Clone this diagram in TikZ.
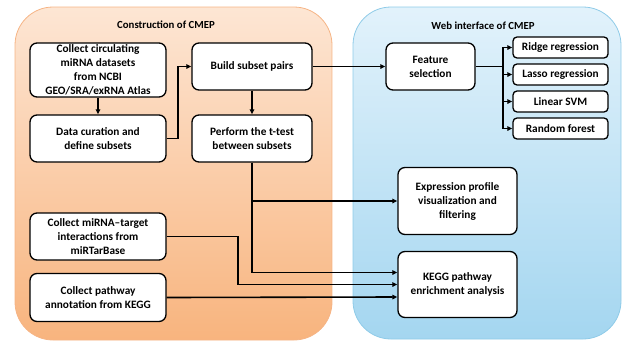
\documentclass[tikz,border=0pt]{standalone}
\usepackage{fontspec}
\setmainfont{Carlito}
\usetikzlibrary{arrows.meta,calc}
\definecolor{orTop}{HTML}{FDE6D4}
\definecolor{orBot}{HTML}{F8B47E}
\definecolor{orEdge}{HTML}{F6B485}
\definecolor{blTop}{HTML}{E2F2FB}
\definecolor{blBot}{HTML}{A4D6F0}
\definecolor{blEdge}{HTML}{8FCBE8}
\tikzset{
  x=1pt, y=-1pt,
  panel/.style={rounded corners=38pt, line width=0.8pt},
  box/.style={draw=black, fill=white, rounded corners=7pt, line width=1.3pt,
    align=center, font=\bfseries\fontsize{11.3}{14}\selectfont, inner sep=1pt},
  small/.style={box, rounded corners=4pt},
  title/.style={font=\bfseries\fontsize{10.8}{12}\selectfont},
  link/.style={line width=1.6pt, -{Triangle[length=5pt,width=4.5pt]}},
  wire/.style={line width=1.6pt}
}
\begin{document}
\begin{tikzpicture}
\useasboundingbox (0,0) rectangle (622,343);
% two background panels
\shade[panel, top color=orTop, bottom color=orBot, draw=orEdge] (15,7) rectangle (332,340);
\shade[panel, top color=blTop, bottom color=blBot, draw=blEdge] (353,7) rectangle (621,339);
\node[title] (t1) at (166,25) {Construction of CMEP};
\node[title] (t2) at (483,26) {Web interface of CMEP};

% left column
\node[box, minimum width=136pt, minimum height=54pt] (circ) at (98,70)
  {Collect circulating\\miRNA datasets\\from NCBI\\GEO/SRA/exRNA Atlas};
\node[box, minimum width=136pt, minimum height=47pt] (cur) at (98,138.5)
  {Data curation and\\define subsets};
\node[box, minimum width=136pt, minimum height=47pt] (mirt) at (98,236.5)
  {Collect miRNA--target\\interactions from\\miRTarBase};
\node[box, minimum width=136pt, minimum height=48pt] (path) at (98,297.5)
  {Collect pathway\\annotation from KEGG};

% middle column
\node[box, minimum width=120pt, minimum height=47pt] (build) at (252,66.5)
  {Build subset pairs};
\node[box, minimum width=120pt, minimum height=47pt] (ttest) at (252,138.5)
  {Perform the t-test\\between subsets};

% web interface
\node[box, minimum width=89pt, minimum height=47pt] (feat) at (430.5,66.5)
  {Feature\\selection};
\node[small, minimum width=95pt, minimum height=21pt] (ridge) at (560.5,47.5) {Ridge regression};
\node[small, minimum width=95pt, minimum height=21pt] (lasso) at (560.5,74.5) {Lasso regression};
\node[small, minimum width=95pt, minimum height=21pt] (svm) at (560.5,101.5) {Linear SVM};
\node[small, minimum width=95pt, minimum height=21pt] (rf) at (560.5,128.5) {Random forest};
\node[box, minimum width=119pt, minimum height=67pt] (expr) at (457.5,201)
  {Expression profile\\visualization and\\filtering};
\node[box, minimum width=119pt, minimum height=66pt] (kegg) at (457.5,284.5)
  {KEGG pathway\\enrichment analysis};

% junction points
\coordinate (j1) at (178,0);
\coordinate (j2) at (238,0);
\coordinate (j3) at (503,0);

% connectors
\draw[link] (circ) -- (cur);
\draw[link] (cur.east) -- (cur.east -| j1) |- (build.west);
\draw[link] (build) -- (feat);
\draw[link] (build) -- (ttest);
\draw[link] (ttest.south) |- (expr.west);
\draw[link] (ttest.south) |- ([yshift=12pt]kegg.west);
\draw[link] (mirt.east) -- (mirt.east -| j2) |- (kegg.west);
\draw[link] (path.east) -- ([yshift=-12.5pt]kegg.west);
\draw[wire] (feat.east) -- (feat.east -| j3);
\draw[link] (feat.east -| j3) |- (ridge.west);
\draw[link] (feat.east -| j3) |- (lasso.west);
\draw[link] (feat.east -| j3) |- (svm.west);
\draw[link] (feat.east -| j3) |- (rf.west);
\end{tikzpicture}
\end{document}
